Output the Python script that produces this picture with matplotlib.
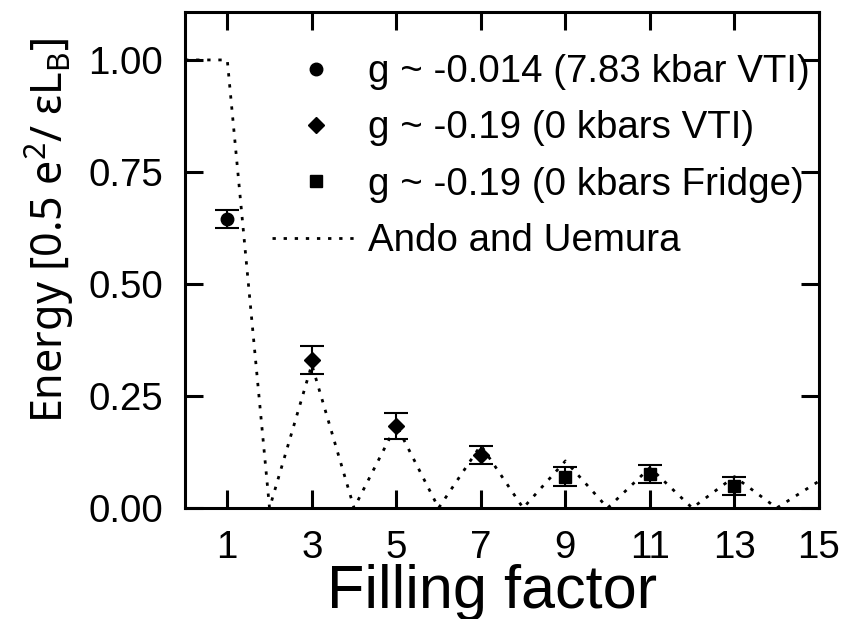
import matplotlib
matplotlib.use("Agg")
import matplotlib.pyplot as plt
from matplotlib.lines import Line2D

plt.rcParams['font.family'] = ['Liberation Sans', 'DejaVu Sans']
plt.rcParams['mathtext.fontset'] = 'custom'
plt.rcParams['mathtext.rm'] = 'Noto Sans:stretch=condensed'
plt.rcParams['mathtext.it'] = 'Noto Sans:stretch=condensed'

# Measured gap energies at odd filling factors
circle_x = [1]
circle_y = [0.644]
circle_err = [0.020]

diamond_x = [3, 5, 7]
diamond_y = [0.330, 0.182, 0.118]
diamond_err = [0.031, 0.029, 0.020]

square_x = [9, 11, 13]
square_y = [0.070, 0.076, 0.050]
square_err = [0.022, 0.020, 0.020]

# Ando and Uemura theory curve
theory_x = [0, 1, 2, 3, 4, 5, 6, 7, 8, 9, 10, 11, 12, 13, 14, 15]
theory_y = [1.0, 1.0, 0.0, 0.32, 0.0, 0.185, 0.0, 0.14, 0.0, 0.105, 0.0, 0.09, 0.0, 0.07, 0.0, 0.06]

labels = ["g ~ -0.014 (7.83 kbar VTI)",
          "g ~ -0.19 (0 kbars VTI)",
          "g ~ -0.19 (0 kbars Fridge)",
          "Ando and Uemura"]

xticks = [1, 3, 5, 7, 9, 11, 13, 15]
yticks = [0.0, 0.25, 0.5, 0.75, 1.0]
yticklabels = ["0.00", "0.25", "0.50", "0.75", "1.00"]

fig = plt.figure(figsize=(8.43, 6.19), dpi=100)
ax = fig.add_axes([185 / 843, 1 - 508 / 619, (819 - 185) / 843, (508 - 12) / 619])

dotted = (0, (1.2, 2.8))
err_kw = dict(color='black', ecolor='black', elinewidth=1.5, capsize=8.3,
              capthick=1.5, linestyle='none', zorder=3)
ax.errorbar(circle_x, circle_y, yerr=circle_err, marker='o', markersize=9, **err_kw)
ax.errorbar(diamond_x, diamond_y, yerr=diamond_err, marker='D', markersize=8.5, **err_kw)
ax.errorbar(square_x, square_y, yerr=square_err, marker='s', markersize=8, **err_kw)
ax.plot(theory_x, theory_y, color='black', linewidth=2.0, linestyle=dotted, zorder=2)

ax.set_xlim(0, 15)
ax.set_ylim(0, 1.107)
ax.set_xticks(xticks)
ax.set_yticks(yticks)
ax.set_yticklabels(yticklabels)
ax.tick_params(direction='in', length=13, width=2.2, labelsize=27.7, top=True, right=True,
               pad=16)
for s in ax.spines.values():
    s.set_linewidth(2.2)

ax.set_xlabel("Filling factor", fontsize=44, va='top')
ax.xaxis.set_label_coords(0.484, -0.112)
ax.set_ylabel(r"Energy [0.5 e$^2$/ $\varepsilon$L$_\mathrm{B}$]", fontsize=31,
              family=['Noto Sans', 'Liberation Sans'], fontstretch='condensed')
ax.yaxis.set_label_coords(-0.17, 0.56)

# legend shows plain markers and the dotted theory line
handles = [
    Line2D([], [], color='black', marker='o', markersize=9, linestyle='none'),
    Line2D([], [], color='black', marker='D', markersize=8.5, linestyle='none'),
    Line2D([], [], color='black', marker='s', markersize=8, linestyle='none'),
    Line2D([], [], color='black', linewidth=2.0, linestyle=dotted),
]
ax.legend(handles, labels, loc='upper left',
          bbox_to_anchor=(272 / 843, 1 - 54 / 619), bbox_transform=fig.transFigure,
          frameon=False, fontsize=27.7, handlelength=2.29, handletextpad=0.2,
          labelspacing=0.53, borderpad=0, borderaxespad=0, numpoints=1)

fig.savefig("out.png", dpi=100)
